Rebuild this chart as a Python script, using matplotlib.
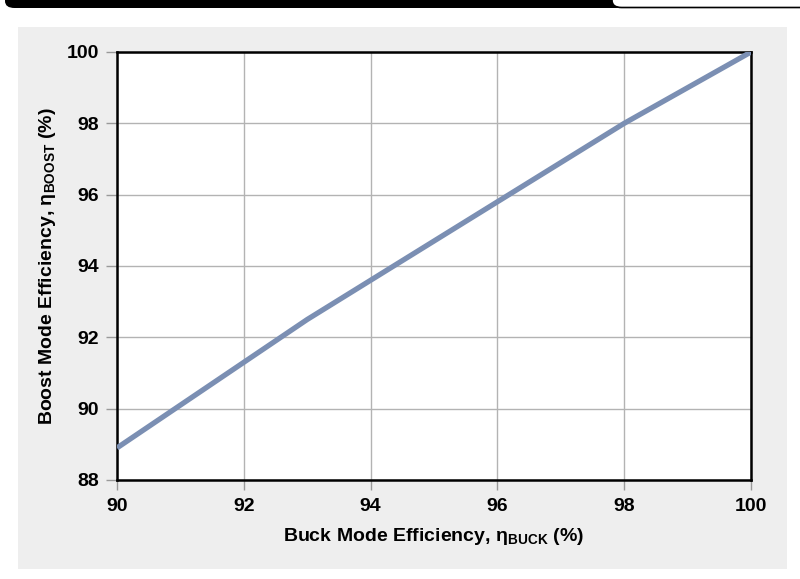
import matplotlib
matplotlib.use("Agg")
import matplotlib.pyplot as plt
from matplotlib.patches import FancyBboxPatch, Rectangle

buck_eff = [90, 91, 92, 93, 94, 95, 96, 97, 98, 99, 100]
boost_eff = [88.9, 90.1, 91.3, 92.5, 93.6, 94.7, 95.8, 96.9, 98.0, 99.0, 100.0]
x_ticks = [90, 92, 94, 96, 98, 100]
y_ticks = [88, 90, 92, 94, 96, 98, 100]

plt.rcParams['font.family'] = ['Liberation Sans', 'DejaVu Sans']
plt.rcParams['font.weight'] = 'bold'
plt.rcParams['mathtext.fontset'] = 'custom'
plt.rcParams['mathtext.rm'] = 'Liberation Sans'
plt.rcParams['mathtext.bf'] = 'Liberation Sans:bold'
plt.rcParams['mathtext.it'] = 'Liberation Sans:italic'

W, H = 800, 579
fig = plt.figure(figsize=(W / 100, H / 100), dpi=100)
fig.patch.set_facecolor('white')

# gray panel
fig.add_artist(Rectangle((18 / W, 1 - 569 / H), (787 - 18) / W, (569 - 27) / H,
                         transform=fig.transFigure, facecolor='#eeeeee',
                         edgecolor='none', zorder=0))
# black header bar
fig.add_artist(FancyBboxPatch((5 / W, 1 - 8 / H), 620 / W, 30 / H,
                              boxstyle="round,pad=0,rounding_size=0.012",
                              transform=fig.transFigure, facecolor='black',
                              edgecolor='none', zorder=1))
# white tab outline
fig.add_artist(FancyBboxPatch((612 / W, 1 - 7.5 / H), 240 / W, 30 / H,
                              boxstyle="round,pad=0,rounding_size=0.012",
                              transform=fig.transFigure, facecolor='white',
                              edgecolor='black', linewidth=1.2, zorder=2))

ax = fig.add_axes([117 / W, 1 - 480 / H, (751 - 117) / W, (480 - 52) / H])
ax.set_facecolor('white')
ax.plot(buck_eff, boost_eff, color='#7b8fb3', linewidth=3.8, solid_capstyle='butt', zorder=3)

ax.set_xlim(90, 100)
ax.set_ylim(88, 100)
ax.set_xticks(x_ticks)
ax.set_yticks(y_ticks)
ax.set_xticklabels([str(v) for v in x_ticks], fontsize=14, fontweight='bold')
ax.set_yticklabels([str(v) for v in y_ticks], fontsize=14, fontweight='bold')
ax.grid(True, color='#b3b3b3', linewidth=1.0, zorder=1)
ax.set_axisbelow(True)
ax.tick_params(axis='x', direction='out', length=7, width=1.0, color='#999999', pad=6)
ax.tick_params(axis='y', direction='out', length=8, width=1.0, color='#999999', pad=5)
for s in ax.spines.values():
    s.set_color('black')
    s.set_linewidth(1.8)

ax.set_xlabel(r"Buck Mode Efficiency, $\mathrm{\eta}_{\mathbf{BUCK}}$ (%)",
              fontsize=14, fontweight='bold', labelpad=8)
ax.set_ylabel(r"Boost Mode Efficiency, $\mathrm{\eta}_{\mathbf{BOOST}}$ (%)",
              fontsize=14, fontweight='bold', labelpad=6)

fig.savefig("out.png", dpi=100)
